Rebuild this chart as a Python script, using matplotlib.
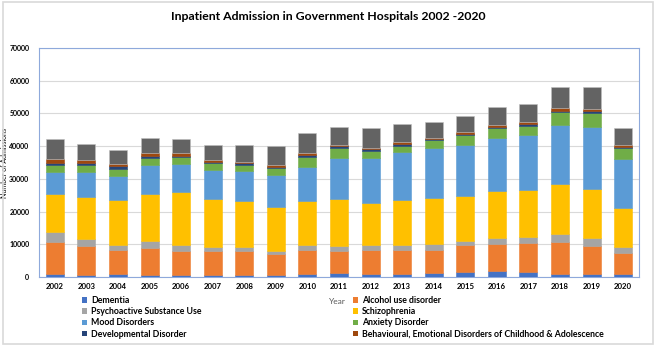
import numpy as np
import matplotlib
matplotlib.use('Agg')
import matplotlib.pyplot as plt
from matplotlib.patches import Patch, Rectangle

plt.rcParams['font.family'] = ['Lato', 'DejaVu Sans']

years = [str(y) for y in range(2002, 2021)]

dementia = [800, 500, 800, 600, 600, 500, 500, 600, 1000, 1200, 1000, 1000, 1200, 1400, 1700, 1400, 1000, 1000, 800]
alcohol = [10000, 9100, 7500, 8400, 7400, 7500, 7500, 6400, 7400, 6800, 7400, 7400, 7200, 8400, 8500, 9000, 9600, 8500, 6500]
psychoactive = [3000, 2000, 1600, 2000, 1800, 1200, 1100, 1000, 1400, 1500, 1400, 1400, 1700, 1100, 1700, 1900, 2600, 2500, 1800]
schizophrenia = [11700, 12800, 13700, 14500, 16100, 14700, 14100, 13300, 13300, 14200, 12900, 13600, 14100, 14000, 14500, 14200, 15100, 15000, 12100]
mood = [6600, 7800, 7300, 8600, 8600, 8800, 9100, 9800, 10600, 12800, 13600, 14700, 15200, 15600, 16200, 16800, 18100, 18800, 14800]
anxiety = [2200, 2000, 2200, 2200, 2100, 2000, 2000, 2100, 3100, 2900, 2200, 2100, 2400, 2800, 2800, 3000, 4000, 4400, 3400]
developmental = [500, 800, 700, 800, 500, 500, 500, 500, 600, 500, 500, 600, 400, 500, 500, 600, 500, 500, 400]
behavioural = [1200, 800, 600, 900, 700, 500, 500, 600, 600, 500, 400, 500, 400, 500, 500, 500, 700, 700, 500]
other = [6100, 4900, 4400, 4500, 4400, 4700, 5100, 5600, 6100, 5400, 6000, 5400, 4700, 4800, 5500, 5400, 6600, 6600, 5400]

series = [
    ('Dementia', dementia, '#4472C4'),
    ('Alcohol use disorder', alcohol, '#ED7D31'),
    ('Psychoactive Substance Use', psychoactive, '#A5A5A5'),
    ('Schizophrenia', schizophrenia, '#FFC000'),
    ('Mood Disorders', mood, '#5B9BD5'),
    ('Anxiety Disorder', anxiety, '#70AD47'),
    ('Developmental Disorder', developmental, '#264478'),
    ('Behavioural, Emotional Disorders of Childhood & Adolescence', behavioural, '#9E480E'),
    ('', other, '#636363'),
]

fig = plt.figure(figsize=(6.56, 3.48), dpi=100)
ax = fig.add_axes([0.0595, 0.204, 0.9145, 0.658])

x = np.arange(len(years))
bottom = np.zeros(len(years))
for name, vals, col in series:
    vals = np.array(vals)
    ec = '#BFBFBF' if name == '' else col
    ax.bar(x, vals, 0.57, bottom=bottom, color=col, edgecolor=ec, linewidth=0.4, zorder=3)
    bottom += vals

ax.set_xlim(-0.5, len(years) - 0.5)
ax.set_ylim(0, 70000)
ax.set_yticks(range(0, 70001, 10000))
ax.set_xticks(x)
ax.set_xticklabels(years)
ax.tick_params(axis='x', length=0, labelsize=5.6, pad=4)
ax.tick_params(axis='y', length=0, labelsize=5, pad=7)
for lab in ax.get_xticklabels() + ax.get_yticklabels():
    lab.set_fontweight('bold')
ax.grid(axis='y', color='#D9D9D9', linewidth=0.8, zorder=0)
for s in ax.spines.values():
    s.set_color('#8EA9DB')
    s.set_linewidth(0.8)

ax.set_ylabel('Number of Admissions', fontsize=5)
ax.yaxis.set_label_coords(-0.052, 0.5)
fig.text(0.5, 1 - 17 / 348, 'Inpatient Admission in Government Hospitals 2002 -2020',
         ha='center', va='center', fontsize=8.8, fontweight='bold')
fig.text(337 / 656, 1 - 302 / 348, 'Year', ha='center', va='center', fontsize=6, color='#595959')

left_items = [series[i] for i in (0, 2, 4, 6)]
right_items = [series[i] for i in (1, 3, 5, 7)]
for items, xpos in ((left_items, 82 / 656), (right_items, 353 / 656)):
    handles = [Patch(facecolor=c, edgecolor='none', label=n) for n, _, c in items]
    leg = fig.legend(handles=handles, loc='upper left', bbox_to_anchor=(xpos, 1 - 296 / 348),
                     frameon=False, fontsize=6.3, handlelength=0.6, handleheight=0.6,
                     handletextpad=0.4, labelspacing=0.25, borderpad=0, borderaxespad=0)
    for t in leg.get_texts():
        t.set_fontweight('bold')

fig.patches.append(Rectangle((0.004, 0.012), 0.992, 0.982, transform=fig.transFigure,
                             fill=False, edgecolor='#D9D9D9', linewidth=1.2))

fig.savefig('out.png', dpi=100)
